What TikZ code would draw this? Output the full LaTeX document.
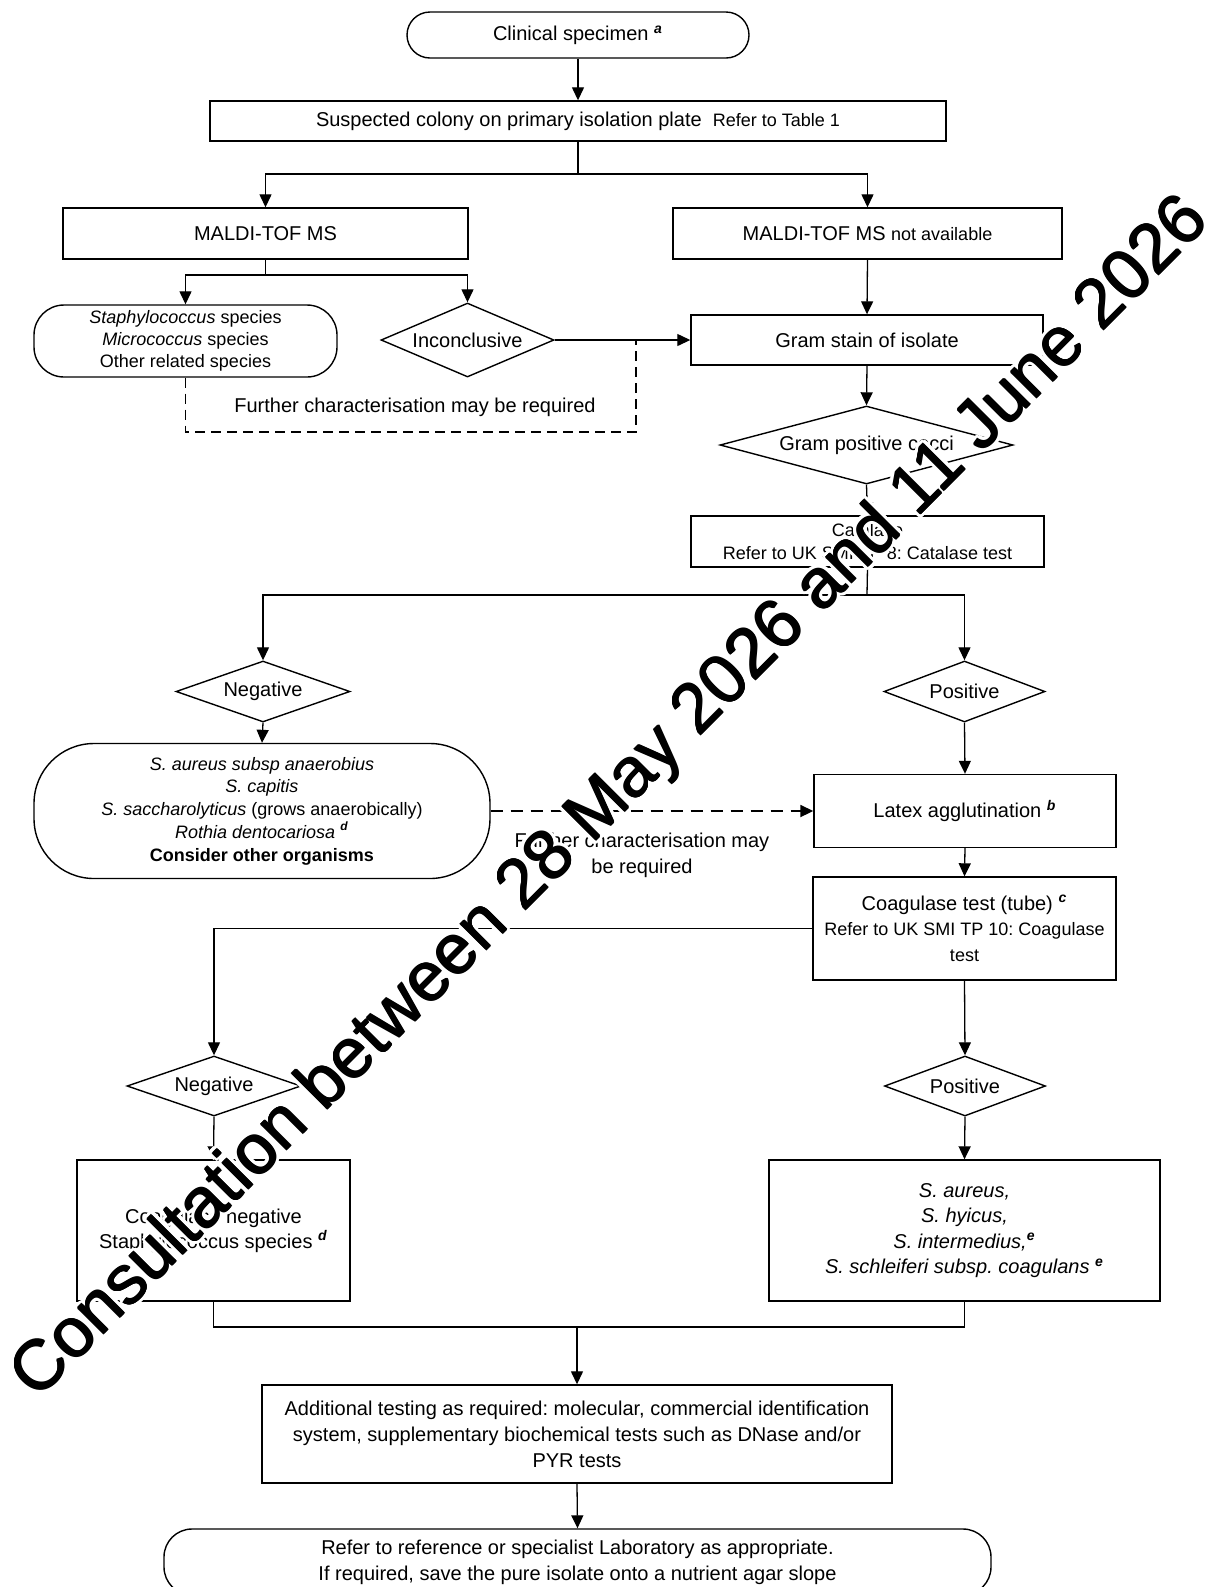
\documentclass[tikz,border=0pt]{standalone}
\usepackage{fontspec}
\setmainfont{Liberation Sans}
\usetikzlibrary{shapes.geometric,arrows.meta}
\frenchspacing
\newcommand{\supit}[1]{\textsuperscript{\textbf{\textit{#1}}}}
\tikzset{
  box/.style={draw, line width=0.7pt, rectangle, inner sep=0pt, align=center, font=\fontsize{10}{12.7}\selectfont},
  dia/.style={draw, line width=0.7pt, diamond, inner sep=0pt, align=center, font=\fontsize{10}{12}\selectfont},
  conn/.style={line width=0.65pt},
  arr/.style={line width=0.65pt, -{Triangle[length=6.5pt,width=6pt]}},
  dline/.style={line width=0.6pt, dash pattern=on 5pt off 3pt},
  darr/.style={line width=0.9pt, dash pattern=on 6pt off 4pt, -{Triangle[length=6.5pt,width=6pt]}},
  lbl/.style={inner sep=0pt, align=center, font=\fontsize{10}{13.2}\selectfont},
  wm/.style={inner sep=0pt, rotate=45.1, font=\fontsize{34.8}{36}\selectfont}
}
\begin{document}
\frenchspacing
\begin{tikzpicture}[x=0.5pt,y=-0.5pt]
\useasboundingbox (0,0) rectangle (1213,1587);
\clip (0,0) rectangle (1213,1587);

% nodes
\node[box, rounded corners=11.5pt, minimum width=171pt, minimum height=23pt] (spec) at (578,35) {Clinical specimen \supit{a}};
\node[box, minimum width=368pt, minimum height=20pt] (susp) at (578,121) {Suspected colony on primary isolation plate\ \ {\fontsize{9}{11}\selectfont Refer to Table 1}};
\node[box, minimum width=202.5pt, minimum height=25.5pt] (maldi) at (265.5,233.5) {MALDI-TOF MS};
\node[box, minimum width=194.5pt, minimum height=25.5pt] (maldina) at (867.5,233.5) {MALDI-TOF MS {\fontsize{9}{11}\selectfont not available}};
\node[box, rounded corners=15pt, minimum width=151.5pt, minimum height=36pt, font=\fontsize{9}{10.9}\selectfont] (staph) at (185.5,341) {\textit{Staphylococcus} species\\ \textit{Micrococcus} species\\ Other related species};
\node[dia, aspect=2.34, minimum width=86.5pt, minimum height=37pt] (incon) at (467.5,340) {Inconclusive};
\node[box, minimum width=176pt, minimum height=25pt] (gram) at (867,340) {Gram stain of isolate};
\node[dia, aspect=3.76, minimum width=146.5pt, minimum height=39pt] (gpc) at (866.5,445) {Gram positive cocci};
\node[box, minimum width=176.5pt, minimum height=25.5pt, font=\fontsize{9}{11.75}\selectfont] (cat) at (867.5,541.5) {Catalase\\ Refer to UK SMI TP 8: Catalase test};
\node[dia, aspect=2.85, minimum width=87pt, minimum height=30.5pt] (neg1) at (263,691.5) {Negative};
\node[dia, aspect=2.64, minimum width=80.5pt, minimum height=30.5pt] (pos1) at (964.5,691.5) {Positive};
\node[box, rounded corners=30pt, minimum width=228pt, minimum height=67.5pt, font=\fontsize{9}{11.4}\selectfont] (lbox) at (262,811) {\textit{S. aureus subsp anaerobius}\\ \textit{S. capitis}\\ \textit{S. saccharolyticus} (grows anaerobically)\\ \textit{Rothia dentocariosa} \supit{d}\\ \textbf{Consider other organisms}};
\node[box, minimum width=151pt, minimum height=36.5pt] (latex) at (965,811) {Latex agglutination \supit{b}};
\node[box, minimum width=151.5pt, minimum height=51.5pt, font=\fontsize{9}{12.9}\selectfont] (coag) at (964.5,928.5) {{\fontsize{10}{12.9}\selectfont Coagulase test (tube) \supit{c}}\\ Refer to UK SMI TP 10: Coagulase\\ test};
\node[dia, aspect=2.85, minimum width=87pt, minimum height=30pt] (neg2) at (214,1086) {Negative};
\node[dia, aspect=2.64, minimum width=80.5pt, minimum height=30pt] (pos2) at (965,1086) {Positive};
\node[box, minimum width=136.5pt, minimum height=70.5pt, font=\fontsize{10}{12.5}\selectfont] (cneg) at (213.5,1230.5) {Coagulase negative\\ Staphylococcus species \supit{d}};
\node[box, minimum width=195.5pt, minimum height=70.5pt] (cpos) at (964.5,1230.5) {\textit{S. aureus,}\\ \textit{S. hyicus,}\\ \textit{S. intermedius,}\supit{e}\\ \textit{S. schleiferi subsp. coagulans} \supit{e}};
\node[box, minimum width=315pt, minimum height=49pt, font=\fontsize{10}{13}\selectfont] (addl) at (577,1434) {Additional testing as required: molecular, commercial identification\\ system, supplementary biochemical tests such as DNase and/or\\ PYR tests};
\node[box, rounded corners=14pt, minimum width=413.5pt, minimum height=33pt, font=\fontsize{10}{13}\selectfont] (final) at (577.5,1562) {Refer to reference or specialist Laboratory as appropriate.\\ If required, save the pure isolate onto a nutrient agar slope};

\node[lbl] (ft1) at (415,407) {Further characterisation may be required};
\node[lbl] (ft2) at (642,855.5) {Further characterisation may\\ be required};

% coordinates
\coordinate (b1) at (578,174);
\coordinate (b2) at (265.5,275);
\coordinate (dc) at (636,432);
\coordinate (dm) at (636,340);
\coordinate (b3) at (867,595);
\coordinate (b4) at (577,1327);

% connectors
\draw[arr] (spec) -- (susp);
\draw[conn] (susp.south) -- (b1);
\draw[arr] (b1) -| (maldi.north);
\draw[arr] (b1) -| (maldina.north);
\draw[conn] (maldi.south) -- (b2);
\draw[arr] (b2) -| (staph.north);
\draw[arr] (b2) -| (incon.north);
\draw[arr] (maldina.south) -- (gram.north);
\draw[arr] (incon.east) -- (gram.west);
\draw[dline] (staph.south) |- (dc) -- (dm);
\draw[arr] (gram.south) -- (gpc.north);
\draw[arr] (gpc.south) -- (cat.north);
\draw[conn] (cat.south) -- (b3);
\draw[arr] (b3) -| (neg1.north);
\draw[arr] (b3) -| (pos1.north);
\draw[arr] (neg1.south) -- (lbox.north);
\draw[arr] (pos1.south) -- (latex.north);
\draw[darr] (lbox.east) -- (latex.west);
\draw[arr] (latex.south) -- (coag.north);
\draw[arr] (coag.west) -| (neg2.north);
\draw[arr] (coag.south) -- (pos2.north);
\draw[arr] (neg2.south) -- (cneg.north);
\draw[arr] (pos2.south) -- (cpos.north);
\draw[conn] (cneg.south) |- (b4);
\draw[conn] (cpos.south) |- (b4);
\draw[arr] (b4) -- (addl.north);
\draw[arr] (addl.south) -- (final.north);

% watermark with white halo, slightly emboldened
\coordinate (wmc) at (612,799);
\foreach \a in {0,22.5,...,337.5}{
  \node[wm, text=white] (wmh\a) at ([shift={(\a:3.8)}]wmc) {Consultation between 28 May 2026 and 11 June 2026};
}
\foreach \a in {0,90,180,270}{
  \node[wm] (wmb\a) at ([shift={(\a:0.7)}]wmc) {Consultation between 28 May 2026 and 11 June 2026};
}
\node[wm] (wmark) at (wmc) {Consultation between 28 May 2026 and 11 June 2026};
\end{tikzpicture}
\end{document}
